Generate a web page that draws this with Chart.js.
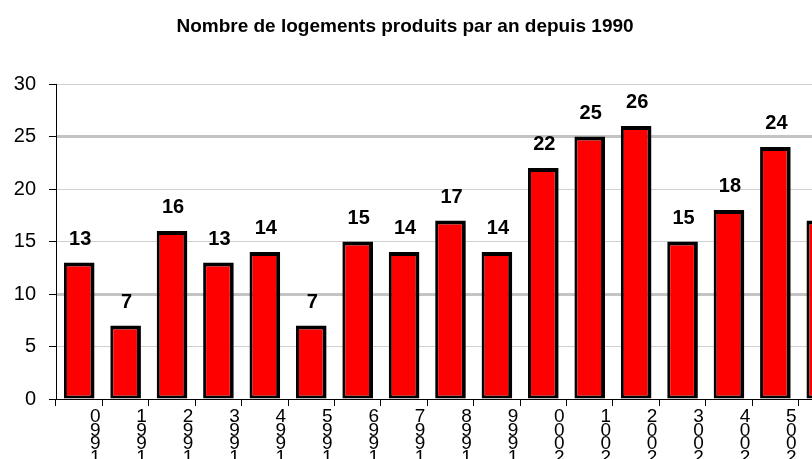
<!DOCTYPE html>
<html>
<head>
<meta charset="utf-8">
<script src="https://cdn.jsdelivr.net/npm/chart.js@4/dist/chart.umd.min.js"></script>
<style>
  html, body { margin: 0; padding: 0; background: #fff; }
  #wrap { width: 812px; height: 459px; overflow: hidden; position: relative; }
  #chart { display: block; }
</style>
</head>
<body>
<div id="wrap">
  <canvas id="chart" width="845" height="459"></canvas>
</div>
<script>
// Data (last bar is cut off at the right edge)
const years = ['1990', '1991', '1992', '1993', '1994', '1995', '1996', '1997', '1998',
  '1999', '2000', '2001', '2002', '2003', '2004', '2005', '2006'];
const logements = [13, 7, 16, 13, 14, 7, 15, 14, 17, 14, 22, 25, 26, 15, 18, 24, 17];
const yTicks = [0, 5, 10, 15, 20, 25, 30];
const titleText = 'Nombre de logements produits par an depuis 1990';

const FONT = "Arial, 'Liberation Sans', sans-serif";

// Year written as a rotated stack of digits, read from top to bottom
const stackedLabels = years.map(y => y.split('').reverse());

// Draw the value above each bar
const valueLabels = {
  id: 'valueLabels',
  afterDatasetsDraw(chart) {
    const ctx = chart.ctx;
    const meta = chart.getDatasetMeta(0);
    ctx.save();
    ctx.font = 'bold 20px ' + FONT;
    ctx.fillStyle = '#000';
    ctx.textAlign = 'center';
    ctx.textBaseline = 'alphabetic';
    meta.data.forEach((bar, i) => {
      ctx.fillText(String(logements[i]), bar.x + 1, bar.y - 18);
    });
    ctx.restore();
  }
};

// Title, centred on the visible part of the page
const titlePlugin = {
  id: 'titlePlugin',
  afterDraw(chart) {
    const ctx = chart.ctx;
    ctx.save();
    ctx.font = 'bold 19px ' + FONT;
    ctx.fillStyle = '#000';
    ctx.textAlign = 'center';
    ctx.textBaseline = 'middle';
    ctx.fillText(titleText, 405, 27);
    ctx.restore();
  }
};

new Chart(document.getElementById('chart'), {
  type: 'bar',
  data: {
    labels: stackedLabels,
    datasets: [{
      data: logements,
      backgroundColor: '#ff0000',
      borderColor: '#000',
      borderWidth: { left: 3, top: 4, right: 4, bottom: 3 },
      borderSkipped: false,
      barPercentage: 0.66,
      categoryPercentage: 1
    }]
  },
  options: {
    responsive: false,
    animation: false,
    layout: { padding: { top: 84, left: 0, right: 0, bottom: 0 } },
    plugins: {
      legend: { display: false },
      title: { display: false },
      tooltip: { enabled: false }
    },
    scales: {
      x: {
        afterFit(scale) { scale.height = 60; },
        border: { display: true, color: '#000', width: 1 },
        grid: {
          display: true,
          offset: true,
          drawOnChartArea: false,
          drawTicks: true,
          tickLength: 7,
          tickColor: '#000'
        },
        ticks: {
          color: '#000',
          font: { family: FONT, size: 19, lineHeight: 0.72 },
          maxRotation: 0,
          minRotation: 0,
          autoSkip: false,
          padding: 4,
          labelOffset: 16
        }
      },
      y: {
        min: 0,
        max: 30,
        afterFit(scale) { scale.width = 56; },
        afterBuildTicks(scale) { scale.ticks = yTicks.map(v => ({ value: v })); },
        border: { display: true, color: '#000', width: 1 },
        grid: {
          color: ctx => (ctx.tick && (ctx.tick.value === 25 || ctx.tick.value === 10)) ? '#c4c4c4' : '#d0d0d0',
          lineWidth: ctx => (ctx.tick && (ctx.tick.value === 25 || ctx.tick.value === 10)) ? 3 : 1,
          drawTicks: true,
          tickLength: 7,
          tickColor: '#000',
          tickWidth: 1
        },
        ticks: {
          color: '#000',
          font: { family: FONT, size: 20 },
          padding: 13
        }
      }
    }
  },
  plugins: [valueLabels, titlePlugin]
});
</script>
</body>
</html>
